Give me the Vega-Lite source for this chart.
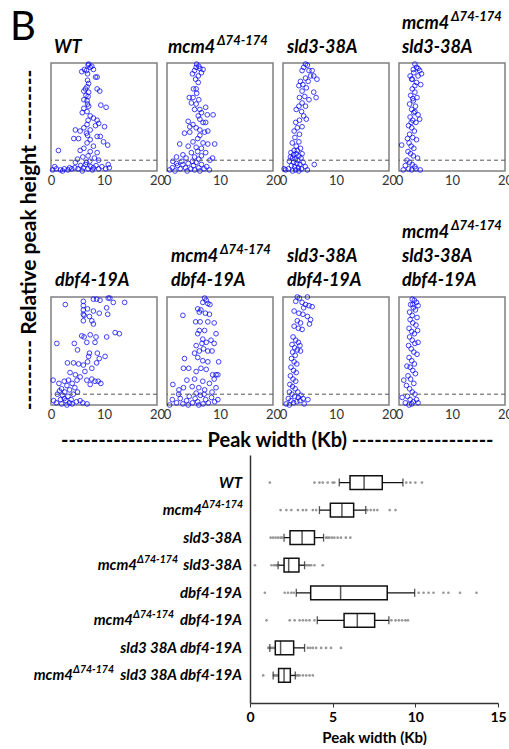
{
  "$schema": "https://vega.github.io/schema/vega-lite/v6.json",
  "padding": {"left": 9, "top": 7, "right": 0, "bottom": 0},
  "config": {
    "font": "Lato",
    "view": {"stroke": "#808080", "strokeWidth": 1.5},
    "axis": {"labelFont": "Lato", "labelFontSize": 13, "labelColor": "#333", "domain": false, "ticks": false, "grid": false, "title": null, "labelPadding": 3},
    "title": {"font": "Lato", "color": "#000", "dx": 0}
  },
  "datasets": {
    "pts": [
      {"p":"WT","w":7.1,"h":0.99},{"p":"WT","w":7.4,"h":0.96},{"p":"WT","w":6.7,"h":0.93},{"p":"WT","w":5.8,"h":0.92},{"p":"WT","w":8.0,"h":0.94},{"p":"WT","w":6.3,"h":0.94},{"p":"WT","w":6.9,"h":0.90},{"p":"WT","w":7.7,"h":0.97},{"p":"WT","w":7.0,"h":0.98},{"p":"WT","w":8.4,"h":0.87},{"p":"WT","w":8.7,"h":0.87},{"p":"WT","w":7.1,"h":0.81},{"p":"WT","w":6.8,"h":0.78},{"p":"WT","w":6.5,"h":0.76},{"p":"WT","w":7.1,"h":0.73},{"p":"WT","w":8.7,"h":0.76},{"p":"WT","w":9.2,"h":0.74},{"p":"WT","w":6.2,"h":0.74},{"p":"WT","w":6.6,"h":0.70},{"p":"WT","w":6.2,"h":0.66},{"p":"WT","w":6.8,"h":0.65},{"p":"WT","w":9.4,"h":0.61},{"p":"WT","w":10.4,"h":0.59},{"p":"WT","w":7.1,"h":0.60},{"p":"WT","w":6.2,"h":0.58},{"p":"WT","w":5.9,"h":0.54},{"p":"WT","w":6.8,"h":0.55},{"p":"WT","w":7.4,"h":0.51},{"p":"WT","w":8.0,"h":0.49},{"p":"WT","w":8.7,"h":0.47},{"p":"WT","w":9.0,"h":0.44},{"p":"WT","w":8.4,"h":0.42},{"p":"WT","w":6.8,"h":0.43},{"p":"WT","w":10.1,"h":0.41},{"p":"WT","w":6.2,"h":0.40},{"p":"WT","w":4.6,"h":0.38},{"p":"WT","w":5.5,"h":0.37},{"p":"WT","w":6.7,"h":0.35},{"p":"WT","w":7.4,"h":0.38},{"p":"WT","w":8.7,"h":0.32},{"p":"WT","w":9.3,"h":0.32},{"p":"WT","w":5.2,"h":0.30},{"p":"WT","w":4.3,"h":0.30},{"p":"WT","w":7.4,"h":0.29},{"p":"WT","w":6.8,"h":0.26},{"p":"WT","w":8.0,"h":0.23},{"p":"WT","w":6.2,"h":0.21},{"p":"WT","w":9.9,"h":0.27},{"p":"WT","w":10.7,"h":0.24},{"p":"WT","w":5.5,"h":0.19},{"p":"WT","w":7.4,"h":0.18},{"p":"WT","w":8.7,"h":0.17},{"p":"WT","w":1.4,"h":0.19},{"p":"WT","w":6.0,"h":0.13},{"p":"WT","w":7.0,"h":0.14},{"p":"WT","w":8.2,"h":0.12},{"p":"WT","w":9.0,"h":0.10},{"p":"WT","w":5.0,"h":0.11},{"p":"WT","w":4.6,"h":0.08},{"p":"WT","w":0.3,"h":0.01},{"p":"WT","w":1.0,"h":0.02},{"p":"WT","w":1.8,"h":0.01},{"p":"WT","w":2.5,"h":0.02},{"p":"WT","w":3.2,"h":0.01},{"p":"WT","w":3.9,"h":0.02},{"p":"WT","w":4.5,"h":0.03},{"p":"WT","w":5.1,"h":0.02},{"p":"WT","w":5.6,"h":0.05},{"p":"WT","w":6.1,"h":0.03},{"p":"WT","w":6.5,"h":0.06},{"p":"WT","w":7.0,"h":0.02},{"p":"WT","w":7.5,"h":0.04},{"p":"WT","w":8.0,"h":0.03},{"p":"WT","w":8.5,"h":0.05},{"p":"WT","w":9.0,"h":0.02},{"p":"WT","w":9.6,"h":0.04},{"p":"WT","w":10.3,"h":0.02},{"p":"WT","w":11.0,"h":0.03},{"p":"WT","w":0.7,"h":0.04},{"p":"WT","w":2.2,"h":0.0},{"p":"WT","w":3.5,"h":0.03},{"p":"WT","w":5.9,"h":0.0},{"p":"WT","w":7.8,"h":0.01},{"p":"WT","w":10.8,"h":0.06},{"p":"WT","w":6.7,"h":0.08},{"p":"WT","w":7.3,"h":0.09},{"p":"WT","w":6.9,"h":0.84},{"p":"WT","w":7.0,"h":0.69},{"p":"WT","w":6.9,"h":0.62},{"p":"WT","w":7.0,"h":0.47},{"p":"WT","w":6.9,"h":0.33},
      {"p":"M","w":5.5,"h":0.96},{"p":"M","w":6.2,"h":0.95},{"p":"M","w":5.2,"h":0.93},{"p":"M","w":6.8,"h":0.94},{"p":"M","w":4.8,"h":0.90},{"p":"M","w":5.9,"h":0.88},{"p":"M","w":6.5,"h":0.91},{"p":"M","w":5.4,"h":0.85},{"p":"M","w":5.9,"h":0.82},{"p":"M","w":5.0,"h":0.76},{"p":"M","w":5.5,"h":0.76},{"p":"M","w":5.6,"h":0.99},{"p":"M","w":6.0,"h":0.97},{"p":"M","w":4.2,"h":0.68},{"p":"M","w":4.9,"h":0.68},{"p":"M","w":6.0,"h":0.66},{"p":"M","w":4.6,"h":0.63},{"p":"M","w":5.5,"h":0.62},{"p":"M","w":7.3,"h":0.59},{"p":"M","w":5.2,"h":0.57},{"p":"M","w":6.2,"h":0.57},{"p":"M","w":6.5,"h":0.54},{"p":"M","w":5.9,"h":0.51},{"p":"M","w":7.6,"h":0.52},{"p":"M","w":8.7,"h":0.52},{"p":"M","w":4.0,"h":0.46},{"p":"M","w":6.2,"h":0.48},{"p":"M","w":6.8,"h":0.45},{"p":"M","w":4.9,"h":0.43},{"p":"M","w":4.3,"h":0.41},{"p":"M","w":5.5,"h":0.40},{"p":"M","w":7.3,"h":0.45},{"p":"M","w":6.2,"h":0.38},{"p":"M","w":3.3,"h":0.35},{"p":"M","w":4.3,"h":0.36},{"p":"M","w":7.1,"h":0.36},{"p":"M","w":7.7,"h":0.37},{"p":"M","w":6.2,"h":0.33},{"p":"M","w":2.4,"h":0.25},{"p":"M","w":4.9,"h":0.27},{"p":"M","w":6.8,"h":0.26},{"p":"M","w":7.7,"h":0.25},{"p":"M","w":9.0,"h":0.25},{"p":"M","w":4.0,"h":0.23},{"p":"M","w":5.5,"h":0.22},{"p":"M","w":6.5,"h":0.21},{"p":"M","w":1.8,"h":0.13},{"p":"M","w":3.0,"h":0.15},{"p":"M","w":4.6,"h":0.17},{"p":"M","w":5.8,"h":0.18},{"p":"M","w":7.3,"h":0.17},{"p":"M","w":8.6,"h":0.12},{"p":"M","w":1.1,"h":0.09},{"p":"M","w":3.6,"h":0.12},{"p":"M","w":5.2,"h":0.13},{"p":"M","w":6.5,"h":0.14},{"p":"M","w":8.1,"h":0.10},{"p":"M","w":0.5,"h":0.01},{"p":"M","w":1.0,"h":0.03},{"p":"M","w":1.5,"h":0.0},{"p":"M","w":2.0,"h":0.05},{"p":"M","w":2.5,"h":0.02},{"p":"M","w":3.0,"h":0.06},{"p":"M","w":3.5,"h":0.03},{"p":"M","w":4.0,"h":0.07},{"p":"M","w":4.5,"h":0.02},{"p":"M","w":5.0,"h":0.05},{"p":"M","w":5.5,"h":0.08},{"p":"M","w":6.0,"h":0.03},{"p":"M","w":6.5,"h":0.06},{"p":"M","w":7.0,"h":0.02},{"p":"M","w":7.5,"h":0.04},{"p":"M","w":8.0,"h":0.01},{"p":"M","w":3.8,"h":0.0},{"p":"M","w":5.2,"h":0.01},{"p":"M","w":6.2,"h":0.0},{"p":"M","w":4.8,"h":0.09},{"p":"M","w":2.8,"h":0.09},{"p":"M","w":1.8,"h":0.07},{"p":"M","w":5.6,"h":0.72},{"p":"M","w":5.8,"h":0.30},{"p":"M","w":6.0,"h":0.11},
      {"p":"S","w":4.25,"h":0.99},{"p":"S","w":3.9,"h":0.96},{"p":"S","w":4.6,"h":0.98},{"p":"S","w":4.9,"h":0.93},{"p":"S","w":5.5,"h":0.93},{"p":"S","w":3.6,"h":0.93},{"p":"S","w":5.2,"h":0.88},{"p":"S","w":5.8,"h":0.88},{"p":"S","w":6.4,"h":0.85},{"p":"S","w":4.25,"h":0.86},{"p":"S","w":4.75,"h":0.83},{"p":"S","w":3.3,"h":0.83},{"p":"S","w":3.0,"h":0.79},{"p":"S","w":3.75,"h":0.80},{"p":"S","w":4.4,"h":0.77},{"p":"S","w":5.8,"h":0.73},{"p":"S","w":6.25,"h":0.68},{"p":"S","w":3.6,"h":0.74},{"p":"S","w":4.1,"h":0.69},{"p":"S","w":3.1,"h":0.68},{"p":"S","w":4.9,"h":0.66},{"p":"S","w":3.6,"h":0.63},{"p":"S","w":3.0,"h":0.60},{"p":"S","w":4.25,"h":0.60},{"p":"S","w":3.5,"h":0.55},{"p":"S","w":2.5,"h":0.57},{"p":"S","w":3.9,"h":0.51},{"p":"S","w":4.4,"h":0.48},{"p":"S","w":3.1,"h":0.47},{"p":"S","w":2.4,"h":0.45},{"p":"S","w":2.7,"h":0.40},{"p":"S","w":3.6,"h":0.41},{"p":"S","w":2.1,"h":0.37},{"p":"S","w":3.1,"h":0.34},{"p":"S","w":2.25,"h":0.31},{"p":"S","w":3.0,"h":0.27},{"p":"S","w":1.75,"h":0.26},{"p":"S","w":2.5,"h":0.23},{"p":"S","w":3.3,"h":0.21},{"p":"S","w":2.1,"h":0.19},{"p":"S","w":1.5,"h":0.17},{"p":"S","w":2.0,"h":0.15},{"p":"S","w":2.5,"h":0.16},{"p":"S","w":3.0,"h":0.14},{"p":"S","w":1.8,"h":0.12},{"p":"S","w":2.3,"h":0.11},{"p":"S","w":2.8,"h":0.10},{"p":"S","w":3.4,"h":0.12},{"p":"S","w":1.2,"h":0.09},{"p":"S","w":2.0,"h":0.08},{"p":"S","w":2.6,"h":0.07},{"p":"S","w":3.2,"h":0.06},{"p":"S","w":3.8,"h":0.08},{"p":"S","w":1.6,"h":0.05},{"p":"S","w":2.2,"h":0.04},{"p":"S","w":2.9,"h":0.03},{"p":"S","w":3.5,"h":0.02},{"p":"S","w":4.2,"h":0.04},{"p":"S","w":0.5,"h":0.01},{"p":"S","w":1.0,"h":0.02},{"p":"S","w":1.8,"h":0.0},{"p":"S","w":2.4,"h":0.01},{"p":"S","w":3.0,"h":0.0},{"p":"S","w":4.6,"h":0.01},{"p":"S","w":5.9,"h":0.06},{"p":"S","w":1.4,"h":0.13},{"p":"S","w":2.7,"h":0.19},{"p":"S","w":3.6,"h":0.16},{"p":"S","w":0.2,"h":0.02},
      {"p":"MS","w":3.0,"h":0.99},{"p":"MS","w":3.3,"h":0.96},{"p":"MS","w":3.9,"h":0.93},{"p":"MS","w":2.7,"h":0.94},{"p":"MS","w":3.6,"h":0.88},{"p":"MS","w":4.25,"h":0.90},{"p":"MS","w":2.4,"h":0.85},{"p":"MS","w":3.3,"h":0.82},{"p":"MS","w":4.1,"h":0.80},{"p":"MS","w":2.5,"h":0.76},{"p":"MS","w":3.0,"h":0.73},{"p":"MS","w":2.2,"h":0.70},{"p":"MS","w":3.4,"h":0.68},{"p":"MS","w":2.7,"h":0.65},{"p":"MS","w":2.0,"h":0.62},{"p":"MS","w":3.1,"h":0.60},{"p":"MS","w":2.4,"h":0.57},{"p":"MS","w":2.8,"h":0.54},{"p":"MS","w":3.6,"h":0.52},{"p":"MS","w":2.1,"h":0.50},{"p":"MS","w":2.6,"h":0.47},{"p":"MS","w":3.2,"h":0.45},{"p":"MS","w":1.8,"h":0.42},{"p":"MS","w":2.4,"h":0.40},{"p":"MS","w":2.9,"h":0.37},{"p":"MS","w":2.0,"h":0.34},{"p":"MS","w":2.6,"h":0.31},{"p":"MS","w":3.3,"h":0.29},{"p":"MS","w":1.9,"h":0.26},{"p":"MS","w":2.3,"h":0.23},{"p":"MS","w":2.8,"h":0.21},{"p":"MS","w":0.5,"h":0.24},{"p":"MS","w":1.7,"h":0.18},{"p":"MS","w":2.2,"h":0.16},{"p":"MS","w":2.7,"h":0.14},{"p":"MS","w":3.5,"h":0.12},{"p":"MS","w":1.5,"h":0.10},{"p":"MS","w":2.0,"h":0.08},{"p":"MS","w":2.5,"h":0.06},{"p":"MS","w":3.0,"h":0.04},{"p":"MS","w":1.2,"h":0.05},{"p":"MS","w":1.8,"h":0.02},{"p":"MS","w":2.4,"h":0.01},{"p":"MS","w":3.2,"h":0.02},{"p":"MS","w":0.8,"h":0.01},{"p":"MS","w":4.0,"h":0.01},{"p":"MS","w":2.1,"h":0.88},{"p":"MS","w":2.8,"h":0.91},{"p":"MS","w":3.6,"h":0.95},{"p":"MS","w":2.5,"h":0.85},{"p":"MS","w":3.0,"h":0.79},{"p":"MS","w":2.3,"h":0.45},{"p":"MS","w":3.0,"h":0.55},{"p":"MS","w":2.6,"h":0.67},{"p":"MS","w":3.9,"h":0.48},{"p":"MS","w":1.6,"h":0.30},
      {"p":"D","w":2.7,"h":0.93},{"p":"D","w":8.0,"h":0.98},{"p":"D","w":8.6,"h":0.98},{"p":"D","w":9.25,"h":0.97},{"p":"D","w":10.8,"h":0.99},{"p":"D","w":11.1,"h":0.99},{"p":"D","w":11.75,"h":0.95},{"p":"D","w":13.9,"h":0.95},{"p":"D","w":6.1,"h":0.96},{"p":"D","w":6.1,"h":0.92},{"p":"D","w":6.1,"h":0.88},{"p":"D","w":6.1,"h":0.84},{"p":"D","w":6.1,"h":0.78},{"p":"D","w":6.9,"h":0.89},{"p":"D","w":8.0,"h":0.87},{"p":"D","w":9.1,"h":0.85},{"p":"D","w":10.5,"h":0.90},{"p":"D","w":10.7,"h":0.84},{"p":"D","w":7.25,"h":0.82},{"p":"D","w":6.25,"h":0.83},{"p":"D","w":7.7,"h":0.78},{"p":"D","w":8.0,"h":0.75},{"p":"D","w":12.1,"h":0.67},{"p":"D","w":12.9,"h":0.66},{"p":"D","w":10.5,"h":0.63},{"p":"D","w":8.5,"h":0.63},{"p":"D","w":7.4,"h":0.65},{"p":"D","w":6.25,"h":0.63},{"p":"D","w":5.8,"h":0.64},{"p":"D","w":6.75,"h":0.58},{"p":"D","w":8.3,"h":0.58},{"p":"D","w":1.1,"h":0.57},{"p":"D","w":4.4,"h":0.57},{"p":"D","w":5.0,"h":0.51},{"p":"D","w":7.25,"h":0.48},{"p":"D","w":8.75,"h":0.48},{"p":"D","w":7.1,"h":0.45},{"p":"D","w":10.2,"h":0.45},{"p":"D","w":3.1,"h":0.39},{"p":"D","w":4.25,"h":0.39},{"p":"D","w":5.2,"h":0.38},{"p":"D","w":6.1,"h":0.37},{"p":"D","w":6.9,"h":0.40},{"p":"D","w":8.6,"h":0.39},{"p":"D","w":9.1,"h":0.43},{"p":"D","w":7.7,"h":0.34},{"p":"D","w":6.4,"h":0.31},{"p":"D","w":0.4,"h":0.23},{"p":"D","w":3.6,"h":0.30},{"p":"D","w":4.6,"h":0.28},{"p":"D","w":5.5,"h":0.26},{"p":"D","w":3.3,"h":0.23},{"p":"D","w":4.9,"h":0.23},{"p":"D","w":6.75,"h":0.23},{"p":"D","w":7.7,"h":0.24},{"p":"D","w":8.3,"h":0.22},{"p":"D","w":8.9,"h":0.22},{"p":"D","w":9.4,"h":0.20},{"p":"D","w":7.4,"h":0.19},{"p":"D","w":1.5,"h":0.20},{"p":"D","w":2.5,"h":0.22},{"p":"D","w":3.0,"h":0.18},{"p":"D","w":4.0,"h":0.20},{"p":"D","w":2.0,"h":0.15},{"p":"D","w":3.5,"h":0.14},{"p":"D","w":4.5,"h":0.16},{"p":"D","w":1.2,"h":0.10},{"p":"D","w":2.2,"h":0.09},{"p":"D","w":3.2,"h":0.08},{"p":"D","w":4.2,"h":0.10},{"p":"D","w":5.0,"h":0.12},{"p":"D","w":1.8,"h":0.05},{"p":"D","w":2.8,"h":0.04},{"p":"D","w":3.8,"h":0.05},{"p":"D","w":4.8,"h":0.03},{"p":"D","w":1.0,"h":0.02},{"p":"D","w":2.0,"h":0.01},{"p":"D","w":3.0,"h":0.0},{"p":"D","w":4.0,"h":0.01},{"p":"D","w":5.5,"h":0.04},{"p":"D","w":6.0,"h":0.02},{"p":"D","w":6.8,"h":0.01},{"p":"D","w":0.5,"h":0.04},{"p":"D","w":2.5,"h":0.06},{"p":"D","w":3.5,"h":0.02},{"p":"D","w":2.6,"h":0.12},{"p":"D","w":1.6,"h":0.13},
      {"p":"MD","w":7.1,"h":0.99},{"p":"MD","w":7.4,"h":0.97},{"p":"MD","w":6.75,"h":0.95},{"p":"MD","w":7.7,"h":0.94},{"p":"MD","w":8.1,"h":0.93},{"p":"MD","w":5.8,"h":0.89},{"p":"MD","w":6.4,"h":0.88},{"p":"MD","w":6.1,"h":0.86},{"p":"MD","w":7.25,"h":0.85},{"p":"MD","w":8.0,"h":0.84},{"p":"MD","w":3.0,"h":0.83},{"p":"MD","w":5.4,"h":0.77},{"p":"MD","w":6.25,"h":0.77},{"p":"MD","w":7.7,"h":0.77},{"p":"MD","w":8.9,"h":0.76},{"p":"MD","w":6.1,"h":0.69},{"p":"MD","w":5.8,"h":0.66},{"p":"MD","w":7.1,"h":0.69},{"p":"MD","w":9.25,"h":0.66},{"p":"MD","w":6.75,"h":0.61},{"p":"MD","w":5.5,"h":0.55},{"p":"MD","w":6.6,"h":0.57},{"p":"MD","w":7.4,"h":0.58},{"p":"MD","w":8.3,"h":0.60},{"p":"MD","w":8.9,"h":0.57},{"p":"MD","w":5.2,"h":0.48},{"p":"MD","w":6.1,"h":0.50},{"p":"MD","w":6.9,"h":0.52},{"p":"MD","w":7.7,"h":0.50},{"p":"MD","w":8.5,"h":0.50},{"p":"MD","w":3.3,"h":0.43},{"p":"MD","w":5.8,"h":0.44},{"p":"MD","w":6.75,"h":0.41},{"p":"MD","w":7.7,"h":0.40},{"p":"MD","w":9.75,"h":0.40},{"p":"MD","w":3.1,"h":0.34},{"p":"MD","w":4.1,"h":0.34},{"p":"MD","w":5.5,"h":0.31},{"p":"MD","w":6.4,"h":0.34},{"p":"MD","w":7.4,"h":0.33},{"p":"MD","w":8.6,"h":0.28},{"p":"MD","w":9.25,"h":0.28},{"p":"MD","w":9.6,"h":0.28},{"p":"MD","w":1.1,"h":0.19},{"p":"MD","w":3.75,"h":0.23},{"p":"MD","w":5.2,"h":0.24},{"p":"MD","w":6.75,"h":0.22},{"p":"MD","w":8.0,"h":0.20},{"p":"MD","w":8.9,"h":0.24},{"p":"MD","w":2.25,"h":0.14},{"p":"MD","w":3.1,"h":0.16},{"p":"MD","w":4.75,"h":0.17},{"p":"MD","w":6.0,"h":0.16},{"p":"MD","w":7.1,"h":0.14},{"p":"MD","w":8.5,"h":0.12},{"p":"MD","w":9.25,"h":0.16},{"p":"MD","w":0.5,"h":0.0},{"p":"MD","w":1.0,"h":0.05},{"p":"MD","w":1.8,"h":0.02},{"p":"MD","w":2.5,"h":0.06},{"p":"MD","w":3.0,"h":0.01},{"p":"MD","w":3.7,"h":0.04},{"p":"MD","w":4.2,"h":0.08},{"p":"MD","w":4.8,"h":0.02},{"p":"MD","w":5.3,"h":0.06},{"p":"MD","w":5.8,"h":0.03},{"p":"MD","w":6.3,"h":0.09},{"p":"MD","w":6.8,"h":0.01},{"p":"MD","w":7.3,"h":0.05},{"p":"MD","w":7.8,"h":0.02},{"p":"MD","w":8.4,"h":0.07},{"p":"MD","w":9.0,"h":0.03},{"p":"MD","w":9.6,"h":0.05},{"p":"MD","w":2.2,"h":0.10},{"p":"MD","w":5.5,"h":0.11},{"p":"MD","w":7.0,"h":0.10},{"p":"MD","w":4.0,"h":0.0},{"p":"MD","w":6.0,"h":0.0},
      {"p":"SD","w":2.7,"h":1.0},{"p":"SD","w":3.1,"h":0.99},{"p":"SD","w":4.6,"h":1.0},{"p":"SD","w":2.4,"h":0.96},{"p":"SD","w":3.6,"h":0.95},{"p":"SD","w":4.25,"h":0.93},{"p":"SD","w":4.9,"h":0.92},{"p":"SD","w":5.5,"h":0.91},{"p":"SD","w":3.9,"h":0.90},{"p":"SD","w":2.1,"h":0.87},{"p":"SD","w":3.0,"h":0.85},{"p":"SD","w":3.75,"h":0.84},{"p":"SD","w":4.6,"h":0.82},{"p":"SD","w":5.2,"h":0.79},{"p":"SD","w":5.0,"h":0.75},{"p":"SD","w":2.7,"h":0.78},{"p":"SD","w":3.3,"h":0.76},{"p":"SD","w":2.1,"h":0.73},{"p":"SD","w":2.9,"h":0.71},{"p":"SD","w":3.6,"h":0.70},{"p":"SD","w":1.9,"h":0.63},{"p":"SD","w":2.4,"h":0.60},{"p":"SD","w":2.9,"h":0.58},{"p":"SD","w":1.7,"h":0.56},{"p":"SD","w":2.2,"h":0.53},{"p":"SD","w":2.7,"h":0.51},{"p":"SD","w":3.2,"h":0.55},{"p":"SD","w":1.8,"h":0.49},{"p":"SD","w":2.3,"h":0.46},{"p":"SD","w":3.3,"h":0.50},{"p":"SD","w":1.6,"h":0.43},{"p":"SD","w":2.1,"h":0.40},{"p":"SD","w":2.6,"h":0.38},{"p":"SD","w":1.5,"h":0.35},{"p":"SD","w":2.0,"h":0.32},{"p":"SD","w":2.5,"h":0.30},{"p":"SD","w":1.4,"h":0.27},{"p":"SD","w":1.9,"h":0.24},{"p":"SD","w":2.4,"h":0.22},{"p":"SD","w":1.3,"h":0.19},{"p":"SD","w":1.8,"h":0.17},{"p":"SD","w":2.3,"h":0.15},{"p":"SD","w":1.2,"h":0.12},{"p":"SD","w":1.7,"h":0.10},{"p":"SD","w":2.2,"h":0.08},{"p":"SD","w":2.8,"h":0.12},{"p":"SD","w":1.0,"h":0.06},{"p":"SD","w":1.5,"h":0.04},{"p":"SD","w":2.0,"h":0.02},{"p":"SD","w":2.6,"h":0.03},{"p":"SD","w":0.6,"h":0.01},{"p":"SD","w":1.2,"h":0.0},{"p":"SD","w":3.2,"h":0.04},{"p":"SD","w":3.8,"h":0.06},{"p":"SD","w":4.7,"h":0.05},{"p":"SD","w":4.0,"h":0.01},{"p":"SD","w":2.9,"h":0.07},{"p":"SD","w":3.4,"h":0.09},
      {"p":"MSD","w":2.5,"h":0.98},{"p":"MSD","w":2.9,"h":0.97},{"p":"MSD","w":3.3,"h":0.95},{"p":"MSD","w":3.6,"h":0.92},{"p":"MSD","w":2.2,"h":0.93},{"p":"MSD","w":2.7,"h":0.90},{"p":"MSD","w":3.1,"h":0.88},{"p":"MSD","w":2.0,"h":0.86},{"p":"MSD","w":2.5,"h":0.83},{"p":"MSD","w":3.4,"h":0.81},{"p":"MSD","w":2.1,"h":0.79},{"p":"MSD","w":2.6,"h":0.76},{"p":"MSD","w":3.2,"h":0.74},{"p":"MSD","w":1.9,"h":0.71},{"p":"MSD","w":2.4,"h":0.68},{"p":"MSD","w":2.9,"h":0.66},{"p":"MSD","w":3.5,"h":0.69},{"p":"MSD","w":2.0,"h":0.63},{"p":"MSD","w":2.5,"h":0.60},{"p":"MSD","w":3.0,"h":0.57},{"p":"MSD","w":1.8,"h":0.55},{"p":"MSD","w":2.3,"h":0.52},{"p":"MSD","w":2.8,"h":0.49},{"p":"MSD","w":3.4,"h":0.47},{"p":"MSD","w":1.9,"h":0.44},{"p":"MSD","w":2.4,"h":0.41},{"p":"MSD","w":2.9,"h":0.38},{"p":"MSD","w":2.1,"h":0.35},{"p":"MSD","w":2.6,"h":0.32},{"p":"MSD","w":3.1,"h":0.29},{"p":"MSD","w":1.7,"h":0.27},{"p":"MSD","w":2.2,"h":0.24},{"p":"MSD","w":0.9,"h":0.23},{"p":"MSD","w":2.8,"h":0.20},{"p":"MSD","w":1.4,"h":0.18},{"p":"MSD","w":2.0,"h":0.15},{"p":"MSD","w":2.5,"h":0.12},{"p":"MSD","w":3.0,"h":0.10},{"p":"MSD","w":1.6,"h":0.08},{"p":"MSD","w":2.1,"h":0.05},{"p":"MSD","w":2.7,"h":0.03},{"p":"MSD","w":3.3,"h":0.05},{"p":"MSD","w":0.6,"h":0.07},{"p":"MSD","w":1.2,"h":0.02},{"p":"MSD","w":1.9,"h":0.0},{"p":"MSD","w":2.4,"h":0.01},{"p":"MSD","w":3.6,"h":0.02},{"p":"MSD","w":1.5,"h":0.36},{"p":"MSD","w":3.6,"h":0.58},{"p":"MSD","w":2.6,"h":0.93}
    ],
    "box": [
      {"g":"WT","lo":5.4,"q1":6.05,"med":6.9,"q3":8.0,"hi":9.25,"head":"","sup":"","tail":"WT"},
      {"g":"M","lo":4.2,"q1":4.86,"med":5.56,"q3":6.27,"hi":7.0,"head":"mcm4","sup":"Δ74-174","tail":""},
      {"g":"S","lo":2.06,"q1":2.42,"med":3.15,"q3":3.9,"hi":4.45,"head":"","sup":"","tail":"sld3-38A"},
      {"g":"MS","lo":1.7,"q1":2.06,"med":2.34,"q3":2.96,"hi":3.3,"head":"mcm4","sup":"Δ74-174","tail":"sld3-38A"},
      {"g":"D","lo":2.8,"q1":3.67,"med":5.48,"q3":8.3,"hi":9.96,"head":"","sup":"","tail":"dbf4-19A"},
      {"g":"MD","lo":4.07,"q1":5.69,"med":6.49,"q3":7.54,"hi":8.4,"head":"mcm4","sup":"Δ74-174","tail":"dbf4-19A"},
      {"g":"SD","lo":1.2,"q1":1.53,"med":1.85,"q3":2.64,"hi":3.3,"head":"","sup":"","tail":"sld3 38A dbf4-19A"},
      {"g":"MSD","lo":1.4,"q1":1.73,"med":2.06,"q3":2.44,"hi":2.74,"head":"mcm4","sup":"Δ74-174","tail":"sld3 38A dbf4-19A"}
    ],
    "out": [
      {"g":"WT","v":1.2},{"g":"WT","v":3.9},{"g":"WT","v":4.2},{"g":"WT","v":4.4},{"g":"WT","v":4.7},{"g":"WT","v":5.0},{"g":"WT","v":5.1},{"g":"WT","v":9.45},{"g":"WT","v":9.7},{"g":"WT","v":10.0},{"g":"WT","v":10.4},
      {"g":"M","v":1.85},{"g":"M","v":2.2},{"g":"M","v":2.5},{"g":"M","v":2.9},{"g":"M","v":3.2},{"g":"M","v":3.4},{"g":"M","v":3.8},{"g":"M","v":4.0},{"g":"M","v":7.1},{"g":"M","v":7.3},{"g":"M","v":7.5},{"g":"M","v":7.7},{"g":"M","v":8.45},{"g":"M","v":8.8},
      {"g":"S","v":1.25},{"g":"S","v":1.4},{"g":"S","v":1.55},{"g":"S","v":1.7},{"g":"S","v":1.85},{"g":"S","v":1.95},{"g":"S","v":4.6},{"g":"S","v":4.7},{"g":"S","v":4.8},{"g":"S","v":4.95},{"g":"S","v":5.1},{"g":"S","v":5.3},{"g":"S","v":5.5},{"g":"S","v":5.8},{"g":"S","v":6.07},
      {"g":"MS","v":0.3},{"g":"MS","v":1.3},{"g":"MS","v":1.45},{"g":"MS","v":1.55},{"g":"MS","v":1.62},{"g":"MS","v":1.68},{"g":"MS","v":3.4},{"g":"MS","v":3.5},{"g":"MS","v":3.6},{"g":"MS","v":3.7},{"g":"MS","v":3.9},{"g":"MS","v":4.4},
      {"g":"D","v":0.9},{"g":"D","v":2.1},{"g":"D","v":2.3},{"g":"D","v":2.5},{"g":"D","v":2.65},{"g":"D","v":10.2},{"g":"D","v":10.5},{"g":"D","v":10.8},{"g":"D","v":11.1},{"g":"D","v":11.7},{"g":"D","v":12.0},{"g":"D","v":12.7},{"g":"D","v":13.7},
      {"g":"MD","v":1.0},{"g":"MD","v":2.4},{"g":"MD","v":2.7},{"g":"MD","v":3.0},{"g":"MD","v":3.2},{"g":"MD","v":3.4},{"g":"MD","v":3.6},{"g":"MD","v":3.9},{"g":"MD","v":8.55},{"g":"MD","v":8.8},{"g":"MD","v":9.0},{"g":"MD","v":9.2},{"g":"MD","v":9.4},{"g":"MD","v":9.55},
      {"g":"SD","v":1.1},{"g":"SD","v":1.15},{"g":"SD","v":1.25},{"g":"SD","v":1.35},{"g":"SD","v":1.45},{"g":"SD","v":3.5},{"g":"SD","v":3.65},{"g":"SD","v":3.8},{"g":"SD","v":4.0},{"g":"SD","v":4.3},{"g":"SD","v":4.6},{"g":"SD","v":4.9},{"g":"SD","v":5.5},
      {"g":"MSD","v":0.8},{"g":"MSD","v":1.45},{"g":"MSD","v":1.5},{"g":"MSD","v":1.55},{"g":"MSD","v":1.6},{"g":"MSD","v":1.65},{"g":"MSD","v":2.8},{"g":"MSD","v":2.9},{"g":"MSD","v":3.0},{"g":"MSD","v":3.2},{"g":"MSD","v":3.4},{"g":"MSD","v":3.6},{"g":"MSD","v":3.8}
    ]
  },
  "spacing": 4,
  "vconcat": [
    {
      "title": {"text": "-------------------   Peak width (Kb)   -------------------", "orient": "bottom", "anchor": "middle", "fontSize": 20, "fontWeight": "bold", "offset": 9, "dx": 16, "baseline": "top"},
      "columns": 4,
      "bounds": "flush",
      "spacing": {"row": 126, "column": 10},
      "concat": [
        {"width": 106, "height": 108,
         "layer": [
           {"data": {"name": "pts"}, "transform": [{"filter": "datum.p === 'WT'"}],
            "mark": {"type": "point", "shape": "circle", "filled": false, "color": "#0000ff", "size": 22, "strokeWidth": 1, "opacity": 0.75},
            "encoding": {"x": {"field": "w", "type": "quantitative", "scale": {"domain": [0, 20], "nice": false}, "axis": {"values": [0, 10, 20], "labelFlush": false}},
                         "y": {"field": "h", "type": "quantitative", "scale": {"domain": [0, 1], "nice": false}, "axis": null}}},
           {"data": {"values": [{"cut": 0.1}]}, "mark": {"type": "rule", "strokeDash": [4, 3], "color": "#555", "strokeWidth": 1}, "encoding": {"y": {"field": "cut", "type": "quantitative"}}},
           {"data": {"values": [{"t": ["WT"]}]}, "mark": {"type": "text", "align": "left", "baseline": "alphabetic", "fontSize": 18, "fontStyle": "italic", "fontWeight": "bold", "lineHeight": 24, "dx": 3, "dy": -10},
            "encoding": {"x": {"datum": 0, "type": "quantitative"}, "y": {"datum": 1, "type": "quantitative"}, "text": {"field": "t"}}},
           {"data": {"values": [{"t": "B"}]}, "mark": {"type": "text", "align": "left", "baseline": "alphabetic", "fontSize": 40, "fontWeight": "normal", "dx": -41, "dy": -23},
            "encoding": {"x": {"datum": 0, "type": "quantitative"}, "y": {"datum": 1, "type": "quantitative"}, "text": {"field": "t"}}},
           {"data": {"values": [{"t": "---------   Relative peak height   ---------"}]}, "mark": {"type": "text", "align": "center", "baseline": "middle", "angle": 270, "fontSize": 21, "fontWeight": "bold", "dx": -177, "dy": -21},
            "encoding": {"x": {"datum": 0, "type": "quantitative"}, "y": {"datum": 1, "type": "quantitative"}, "text": {"field": "t"}}}
         ]},
        {"width": 106, "height": 108,
         "layer": [
           {"data": {"name": "pts"}, "transform": [{"filter": "datum.p === 'M'"}],
            "mark": {"type": "point", "shape": "circle", "filled": false, "color": "#0000ff", "size": 22, "strokeWidth": 1, "opacity": 0.75},
            "encoding": {"x": {"field": "w", "type": "quantitative", "scale": {"domain": [0, 20], "nice": false}, "axis": {"values": [0, 10, 20], "labelFlush": false}},
                         "y": {"field": "h", "type": "quantitative", "scale": {"domain": [0, 1], "nice": false}, "axis": null}}},
           {"data": {"values": [{"cut": 0.1}]}, "mark": {"type": "rule", "strokeDash": [4, 3], "color": "#555", "strokeWidth": 1}, "encoding": {"y": {"field": "cut", "type": "quantitative"}}},
           {"data": {"values": [{"t": ["mcm4"]}]}, "mark": {"type": "text", "align": "left", "baseline": "alphabetic", "fontSize": 18, "fontStyle": "italic", "fontWeight": "bold", "lineHeight": 24, "dx": 1, "dy": -10},
            "encoding": {"x": {"datum": 0, "type": "quantitative"}, "y": {"datum": 1, "type": "quantitative"}, "text": {"field": "t"}}},
           {"data": {"values": [{"sup": "Δ74-174"}]}, "mark": {"type": "text", "align": "left", "baseline": "alphabetic", "fontSize": 13, "fontStyle": "italic", "fontWeight": "bold", "dx": 50, "dy": -18},
            "encoding": {"x": {"datum": 0, "type": "quantitative"}, "y": {"datum": 1, "type": "quantitative"}, "text": {"field": "sup"}}}
         ]},
        {"width": 106, "height": 108,
         "layer": [
           {"data": {"name": "pts"}, "transform": [{"filter": "datum.p === 'S'"}],
            "mark": {"type": "point", "shape": "circle", "filled": false, "color": "#0000ff", "size": 22, "strokeWidth": 1, "opacity": 0.75},
            "encoding": {"x": {"field": "w", "type": "quantitative", "scale": {"domain": [0, 20], "nice": false}, "axis": {"values": [0, 10, 20], "labelFlush": false}},
                         "y": {"field": "h", "type": "quantitative", "scale": {"domain": [0, 1], "nice": false}, "axis": null}}},
           {"data": {"values": [{"cut": 0.1}]}, "mark": {"type": "rule", "strokeDash": [4, 3], "color": "#555", "strokeWidth": 1}, "encoding": {"y": {"field": "cut", "type": "quantitative"}}},
           {"data": {"values": [{"t": ["sld3-38A"]}]}, "mark": {"type": "text", "align": "left", "baseline": "alphabetic", "fontSize": 18, "fontStyle": "italic", "fontWeight": "bold", "lineHeight": 24, "dx": 4, "dy": -10},
            "encoding": {"x": {"datum": 0, "type": "quantitative"}, "y": {"datum": 1, "type": "quantitative"}, "text": {"field": "t"}}}
         ]},
        {"width": 106, "height": 108,
         "layer": [
           {"data": {"name": "pts"}, "transform": [{"filter": "datum.p === 'MS'"}],
            "mark": {"type": "point", "shape": "circle", "filled": false, "color": "#0000ff", "size": 22, "strokeWidth": 1, "opacity": 0.75},
            "encoding": {"x": {"field": "w", "type": "quantitative", "scale": {"domain": [0, 20], "nice": false}, "axis": {"values": [0, 10, 20], "labelFlush": false}},
                         "y": {"field": "h", "type": "quantitative", "scale": {"domain": [0, 1], "nice": false}, "axis": null}}},
           {"data": {"values": [{"cut": 0.1}]}, "mark": {"type": "rule", "strokeDash": [4, 3], "color": "#555", "strokeWidth": 1}, "encoding": {"y": {"field": "cut", "type": "quantitative"}}},
           {"data": {"values": [{"t": ["mcm4", "sld3-38A"]}]}, "mark": {"type": "text", "align": "left", "baseline": "alphabetic", "fontSize": 18, "fontStyle": "italic", "fontWeight": "bold", "lineHeight": 24, "dx": 3, "dy": -34},
            "encoding": {"x": {"datum": 0, "type": "quantitative"}, "y": {"datum": 1, "type": "quantitative"}, "text": {"field": "t"}}},
           {"data": {"values": [{"sup": "Δ74-174"}]}, "mark": {"type": "text", "align": "left", "baseline": "alphabetic", "fontSize": 13, "fontStyle": "italic", "fontWeight": "bold", "dx": 52, "dy": -42},
            "encoding": {"x": {"datum": 0, "type": "quantitative"}, "y": {"datum": 1, "type": "quantitative"}, "text": {"field": "sup"}}}
         ]},
        {"width": 106, "height": 108,
         "layer": [
           {"data": {"name": "pts"}, "transform": [{"filter": "datum.p === 'D'"}],
            "mark": {"type": "point", "shape": "circle", "filled": false, "color": "#0000ff", "size": 22, "strokeWidth": 1, "opacity": 0.75},
            "encoding": {"x": {"field": "w", "type": "quantitative", "scale": {"domain": [0, 20], "nice": false}, "axis": {"values": [0, 10, 20], "labelFlush": false}},
                         "y": {"field": "h", "type": "quantitative", "scale": {"domain": [0, 1], "nice": false}, "axis": null}}},
           {"data": {"values": [{"cut": 0.1}]}, "mark": {"type": "rule", "strokeDash": [4, 3], "color": "#555", "strokeWidth": 1}, "encoding": {"y": {"field": "cut", "type": "quantitative"}}},
           {"data": {"values": [{"t": ["dbf4-19A"]}]}, "mark": {"type": "text", "align": "left", "baseline": "alphabetic", "fontSize": 18, "fontStyle": "italic", "fontWeight": "bold", "lineHeight": 24, "dx": 4, "dy": -11},
            "encoding": {"x": {"datum": 0, "type": "quantitative"}, "y": {"datum": 1, "type": "quantitative"}, "text": {"field": "t"}}}
         ]},
        {"width": 106, "height": 108,
         "layer": [
           {"data": {"name": "pts"}, "transform": [{"filter": "datum.p === 'MD'"}],
            "mark": {"type": "point", "shape": "circle", "filled": false, "color": "#0000ff", "size": 22, "strokeWidth": 1, "opacity": 0.75},
            "encoding": {"x": {"field": "w", "type": "quantitative", "scale": {"domain": [0, 20], "nice": false}, "axis": {"values": [0, 10, 20], "labelFlush": false}},
                         "y": {"field": "h", "type": "quantitative", "scale": {"domain": [0, 1], "nice": false}, "axis": null}}},
           {"data": {"values": [{"cut": 0.1}]}, "mark": {"type": "rule", "strokeDash": [4, 3], "color": "#555", "strokeWidth": 1}, "encoding": {"y": {"field": "cut", "type": "quantitative"}}},
           {"data": {"values": [{"t": ["mcm4", "dbf4-19A"]}]}, "mark": {"type": "text", "align": "left", "baseline": "alphabetic", "fontSize": 18, "fontStyle": "italic", "fontWeight": "bold", "lineHeight": 24, "dx": 4, "dy": -35},
            "encoding": {"x": {"datum": 0, "type": "quantitative"}, "y": {"datum": 1, "type": "quantitative"}, "text": {"field": "t"}}},
           {"data": {"values": [{"sup": "Δ74-174"}]}, "mark": {"type": "text", "align": "left", "baseline": "alphabetic", "fontSize": 13, "fontStyle": "italic", "fontWeight": "bold", "dx": 53, "dy": -43},
            "encoding": {"x": {"datum": 0, "type": "quantitative"}, "y": {"datum": 1, "type": "quantitative"}, "text": {"field": "sup"}}}
         ]},
        {"width": 106, "height": 108,
         "layer": [
           {"data": {"name": "pts"}, "transform": [{"filter": "datum.p === 'SD'"}],
            "mark": {"type": "point", "shape": "circle", "filled": false, "color": "#0000ff", "size": 22, "strokeWidth": 1, "opacity": 0.75},
            "encoding": {"x": {"field": "w", "type": "quantitative", "scale": {"domain": [0, 20], "nice": false}, "axis": {"values": [0, 10, 20], "labelFlush": false}},
                         "y": {"field": "h", "type": "quantitative", "scale": {"domain": [0, 1], "nice": false}, "axis": null}}},
           {"data": {"values": [{"cut": 0.1}]}, "mark": {"type": "rule", "strokeDash": [4, 3], "color": "#555", "strokeWidth": 1}, "encoding": {"y": {"field": "cut", "type": "quantitative"}}},
           {"data": {"values": [{"t": ["sld3-38A", "dbf4-19A"]}]}, "mark": {"type": "text", "align": "left", "baseline": "alphabetic", "fontSize": 18, "fontStyle": "italic", "fontWeight": "bold", "lineHeight": 24, "dx": 4, "dy": -35},
            "encoding": {"x": {"datum": 0, "type": "quantitative"}, "y": {"datum": 1, "type": "quantitative"}, "text": {"field": "t"}}}
         ]},
        {"width": 106, "height": 108,
         "layer": [
           {"data": {"name": "pts"}, "transform": [{"filter": "datum.p === 'MSD'"}],
            "mark": {"type": "point", "shape": "circle", "filled": false, "color": "#0000ff", "size": 22, "strokeWidth": 1, "opacity": 0.75},
            "encoding": {"x": {"field": "w", "type": "quantitative", "scale": {"domain": [0, 20], "nice": false}, "axis": {"values": [0, 10, 20], "labelFlush": false}},
                         "y": {"field": "h", "type": "quantitative", "scale": {"domain": [0, 1], "nice": false}, "axis": null}}},
           {"data": {"values": [{"cut": 0.1}]}, "mark": {"type": "rule", "strokeDash": [4, 3], "color": "#555", "strokeWidth": 1}, "encoding": {"y": {"field": "cut", "type": "quantitative"}}},
           {"data": {"values": [{"t": ["mcm4", "sld3-38A", "dbf4-19A"]}]}, "mark": {"type": "text", "align": "left", "baseline": "alphabetic", "fontSize": 18, "fontStyle": "italic", "fontWeight": "bold", "lineHeight": 24, "dx": 3, "dy": -59},
            "encoding": {"x": {"datum": 0, "type": "quantitative"}, "y": {"datum": 1, "type": "quantitative"}, "text": {"field": "t"}}},
           {"data": {"values": [{"sup": "Δ74-174"}]}, "mark": {"type": "text", "align": "left", "baseline": "alphabetic", "fontSize": 13, "fontStyle": "italic", "fontWeight": "bold", "dx": 52, "dy": -67},
            "encoding": {"x": {"datum": 0, "type": "quantitative"}, "y": {"datum": 1, "type": "quantitative"}, "text": {"field": "sup"}}}
         ]}
      ]
    },
    {
      "hconcat": [
        {
          "width": 199, "height": 248,
          "view": {"stroke": null},
          "data": {"name": "box"},
          "encoding": {
            "y": {"field": "g", "type": "nominal", "scale": {"type": "band", "domain": ["WT", "M", "S", "MS", "D", "MD", "SD", "MSD"], "paddingInner": 0, "paddingOuter": 0.5}, "axis": null},
            "x": {"datum": 1, "type": "quantitative", "scale": {"domain": [0, 1], "nice": false}, "axis": null}
          },
          "layer": [
            {"mark": {"type": "text", "align": "right", "baseline": "middle", "dx": -8, "fontSize": 15, "fontStyle": "italic", "fontWeight": "bold", "color": "#000"},
             "encoding": {"text": {"field": "tail"}}},
            {"transform": [{"filter": "datum.g === 'M'"}], "mark": {"type": "text", "align": "right", "baseline": "middle", "dx": -7, "dy": -5, "fontSize": 10.5, "fontStyle": "italic", "fontWeight": "bold", "color": "#000"},
             "encoding": {"text": {"field": "sup"}}},
            {"transform": [{"filter": "datum.g === 'M'"}], "mark": {"type": "text", "align": "right", "baseline": "middle", "dx": -48, "fontSize": 15, "fontStyle": "italic", "fontWeight": "bold", "color": "#000"},
             "encoding": {"text": {"field": "head"}}},
            {"transform": [{"filter": "datum.g === 'MS'"}], "mark": {"type": "text", "align": "right", "baseline": "middle", "dx": -72, "dy": -5, "fontSize": 10.5, "fontStyle": "italic", "fontWeight": "bold", "color": "#000"},
             "encoding": {"text": {"field": "sup"}}},
            {"transform": [{"filter": "datum.g === 'MS'"}], "mark": {"type": "text", "align": "right", "baseline": "middle", "dx": -113, "fontSize": 15, "fontStyle": "italic", "fontWeight": "bold", "color": "#000"},
             "encoding": {"text": {"field": "head"}}},
            {"transform": [{"filter": "datum.g === 'MD'"}], "mark": {"type": "text", "align": "right", "baseline": "middle", "dx": -76, "dy": -5, "fontSize": 10.5, "fontStyle": "italic", "fontWeight": "bold", "color": "#000"},
             "encoding": {"text": {"field": "sup"}}},
            {"transform": [{"filter": "datum.g === 'MD'"}], "mark": {"type": "text", "align": "right", "baseline": "middle", "dx": -117, "fontSize": 15, "fontStyle": "italic", "fontWeight": "bold", "color": "#000"},
             "encoding": {"text": {"field": "head"}}},
            {"transform": [{"filter": "datum.g === 'MSD'"}], "mark": {"type": "text", "align": "right", "baseline": "middle", "dx": -136, "dy": -5, "fontSize": 10.5, "fontStyle": "italic", "fontWeight": "bold", "color": "#000"},
             "encoding": {"text": {"field": "sup"}}},
            {"transform": [{"filter": "datum.g === 'MSD'"}], "mark": {"type": "text", "align": "right", "baseline": "middle", "dx": -177, "fontSize": 15, "fontStyle": "italic", "fontWeight": "bold", "color": "#000"},
             "encoding": {"text": {"field": "head"}}}
          ]
        },
        {
          "width": 248, "height": 248,
          "view": {"stroke": null},
          "encoding": {
            "y": {"field": "g", "type": "nominal", "scale": {"type": "band", "domain": ["WT", "M", "S", "MS", "D", "MD", "SD", "MSD"], "paddingInner": 0, "paddingOuter": 0.5},
                  "axis": {"title": null, "labels": false, "ticks": false, "domain": true, "domainColor": "#333", "domainWidth": 1.5}}
          },
          "layer": [
            {"data": {"name": "box"}, "mark": {"type": "rule", "color": "#111", "strokeWidth": 1.3},
             "encoding": {"x": {"field": "lo", "type": "quantitative", "scale": {"domain": [0, 15], "nice": false},
                                "axis": {"values": [0, 5, 10, 15], "title": "Peak width (Kb)", "labelFlush": false, "labelFontSize": 14, "labelFontWeight": "bold", "labelColor": "#000", "titleFont": "Lato", "titleFontSize": 15, "titleFontWeight": "bold", "titleColor": "#000", "titlePadding": 6, "domain": true, "domainColor": "#333", "domainWidth": 1.5, "ticks": true, "tickColor": "#333", "tickSize": 4}},
                          "x2": {"field": "hi"}}},
            {"data": {"name": "out"}, "mark": {"type": "point", "shape": "circle", "filled": true, "color": "#8c8c8c", "size": 7, "opacity": 0.9},
             "encoding": {"x": {"field": "v", "type": "quantitative"}}},
            {"data": {"name": "box"}, "mark": {"type": "bar", "fill": "white", "stroke": "#111", "strokeWidth": 1.5, "height": {"band": 0.5}},
             "encoding": {"x": {"field": "q1", "type": "quantitative"}, "x2": {"field": "q3"}}},
            {"data": {"name": "box"}, "mark": {"type": "tick", "color": "#111", "thickness": 1.5, "size": 14},
             "encoding": {"x": {"field": "med", "type": "quantitative"}}},
            {"data": {"name": "box"}, "mark": {"type": "tick", "color": "#111", "thickness": 1.3, "size": 8},
             "encoding": {"x": {"field": "lo", "type": "quantitative"}}},
            {"data": {"name": "box"}, "mark": {"type": "tick", "color": "#111", "thickness": 1.3, "size": 8},
             "encoding": {"x": {"field": "hi", "type": "quantitative"}}}
          ]
        }
      ],
      "spacing": 0,
      "bounds": "flush"
    }
  ]
}
